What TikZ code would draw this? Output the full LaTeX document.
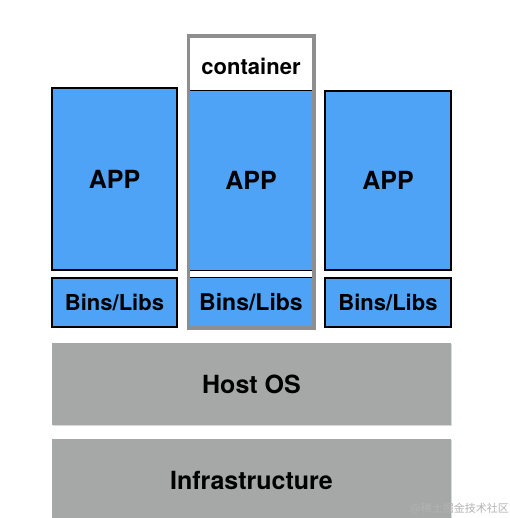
\documentclass[tikz,border=0pt]{standalone}
\usepackage{fontspec}
\setmainfont{TeX Gyre Heros}
\newfontfamily\cjk{Noto Sans CJK SC}
\definecolor{appblue}{HTML}{4FA3F7}
\definecolor{layergray}{HTML}{A5A8A7}
\definecolor{contgray}{HTML}{8E8E8E}
\begin{document}
\begin{tikzpicture}[x=1pt,y=-1pt,
  bluebox/.style={draw=black,line width=1.2pt,fill=appblue,inner sep=0pt,
    font=\bfseries\fontsize{25}{25}\selectfont},
  binsbox/.style={bluebox,font=\bfseries\fontsize{22}{22}\selectfont},
  graybox/.style={fill=layergray,inner sep=0pt,
    font=\bfseries\fontsize{25}{25}\selectfont},
  shadowed/.style={preaction={fill=black!15,transform canvas={xshift=0.8pt,yshift=-1.2pt}}}
]
\useasboundingbox (0,0) rectangle (509,518);
% left stack
\node[bluebox,shadowed,minimum width=125pt,minimum height=182pt] (app1) at (114.5,179) {APP};
\node[binsbox,shadowed,minimum width=125pt,minimum height=49pt] (bins1) at (114.5,302.5) {Bins/Libs};
% right stack
\node[bluebox,shadowed,minimum width=126pt,minimum height=179pt] (app3) at (388,180.5) {APP};
\node[binsbox,shadowed,minimum width=126pt,minimum height=49pt] (bins3) at (388,302.5) {Bins/Libs};
% container
\node[draw=contgray,line width=2.5pt,fill=white,minimum width=124pt,minimum height=291pt,inner sep=0pt] (cframe) at (251,182) {};
\node[font=\bfseries\fontsize{22}{22}\selectfont,inner sep=0pt] (clabel) at (251,66) {container};
\node[fill=appblue,minimum width=122pt,minimum height=179pt,inner sep=0pt,
  font=\bfseries\fontsize{25}{25}\selectfont] (app2) at (251,180.5) {APP};
\draw[line width=1.4pt] (app2.north west) -- (app2.north east);
\draw[line width=1.4pt] (app2.south west) -- (app2.south east);
\node[fill=appblue,minimum width=122pt,minimum height=48pt,inner sep=0pt,
  font=\bfseries\fontsize{23}{23}\selectfont] (bins2) at (251,302) {Bins/Libs};
\draw[line width=1.2pt] (bins2.north west) -- (bins2.north east);
\draw[draw=contgray,line width=2.5pt] (cframe.north west) rectangle (cframe.south east);
% lower layers
\node[graybox,shadowed,minimum width=399pt,minimum height=82pt] (host) at (251.5,384) {Host OS};
\node[graybox,shadowed,minimum width=399pt,minimum height=82pt] (infra) at (251.5,480) {Infrastructure};
% watermark
\node[anchor=east,text=black!30,inner sep=0pt,font=\cjk\fontsize{11}{11}\selectfont] (wm) at (509,509) {@稀土掘金技术社区};
\end{tikzpicture}
\end{document}
